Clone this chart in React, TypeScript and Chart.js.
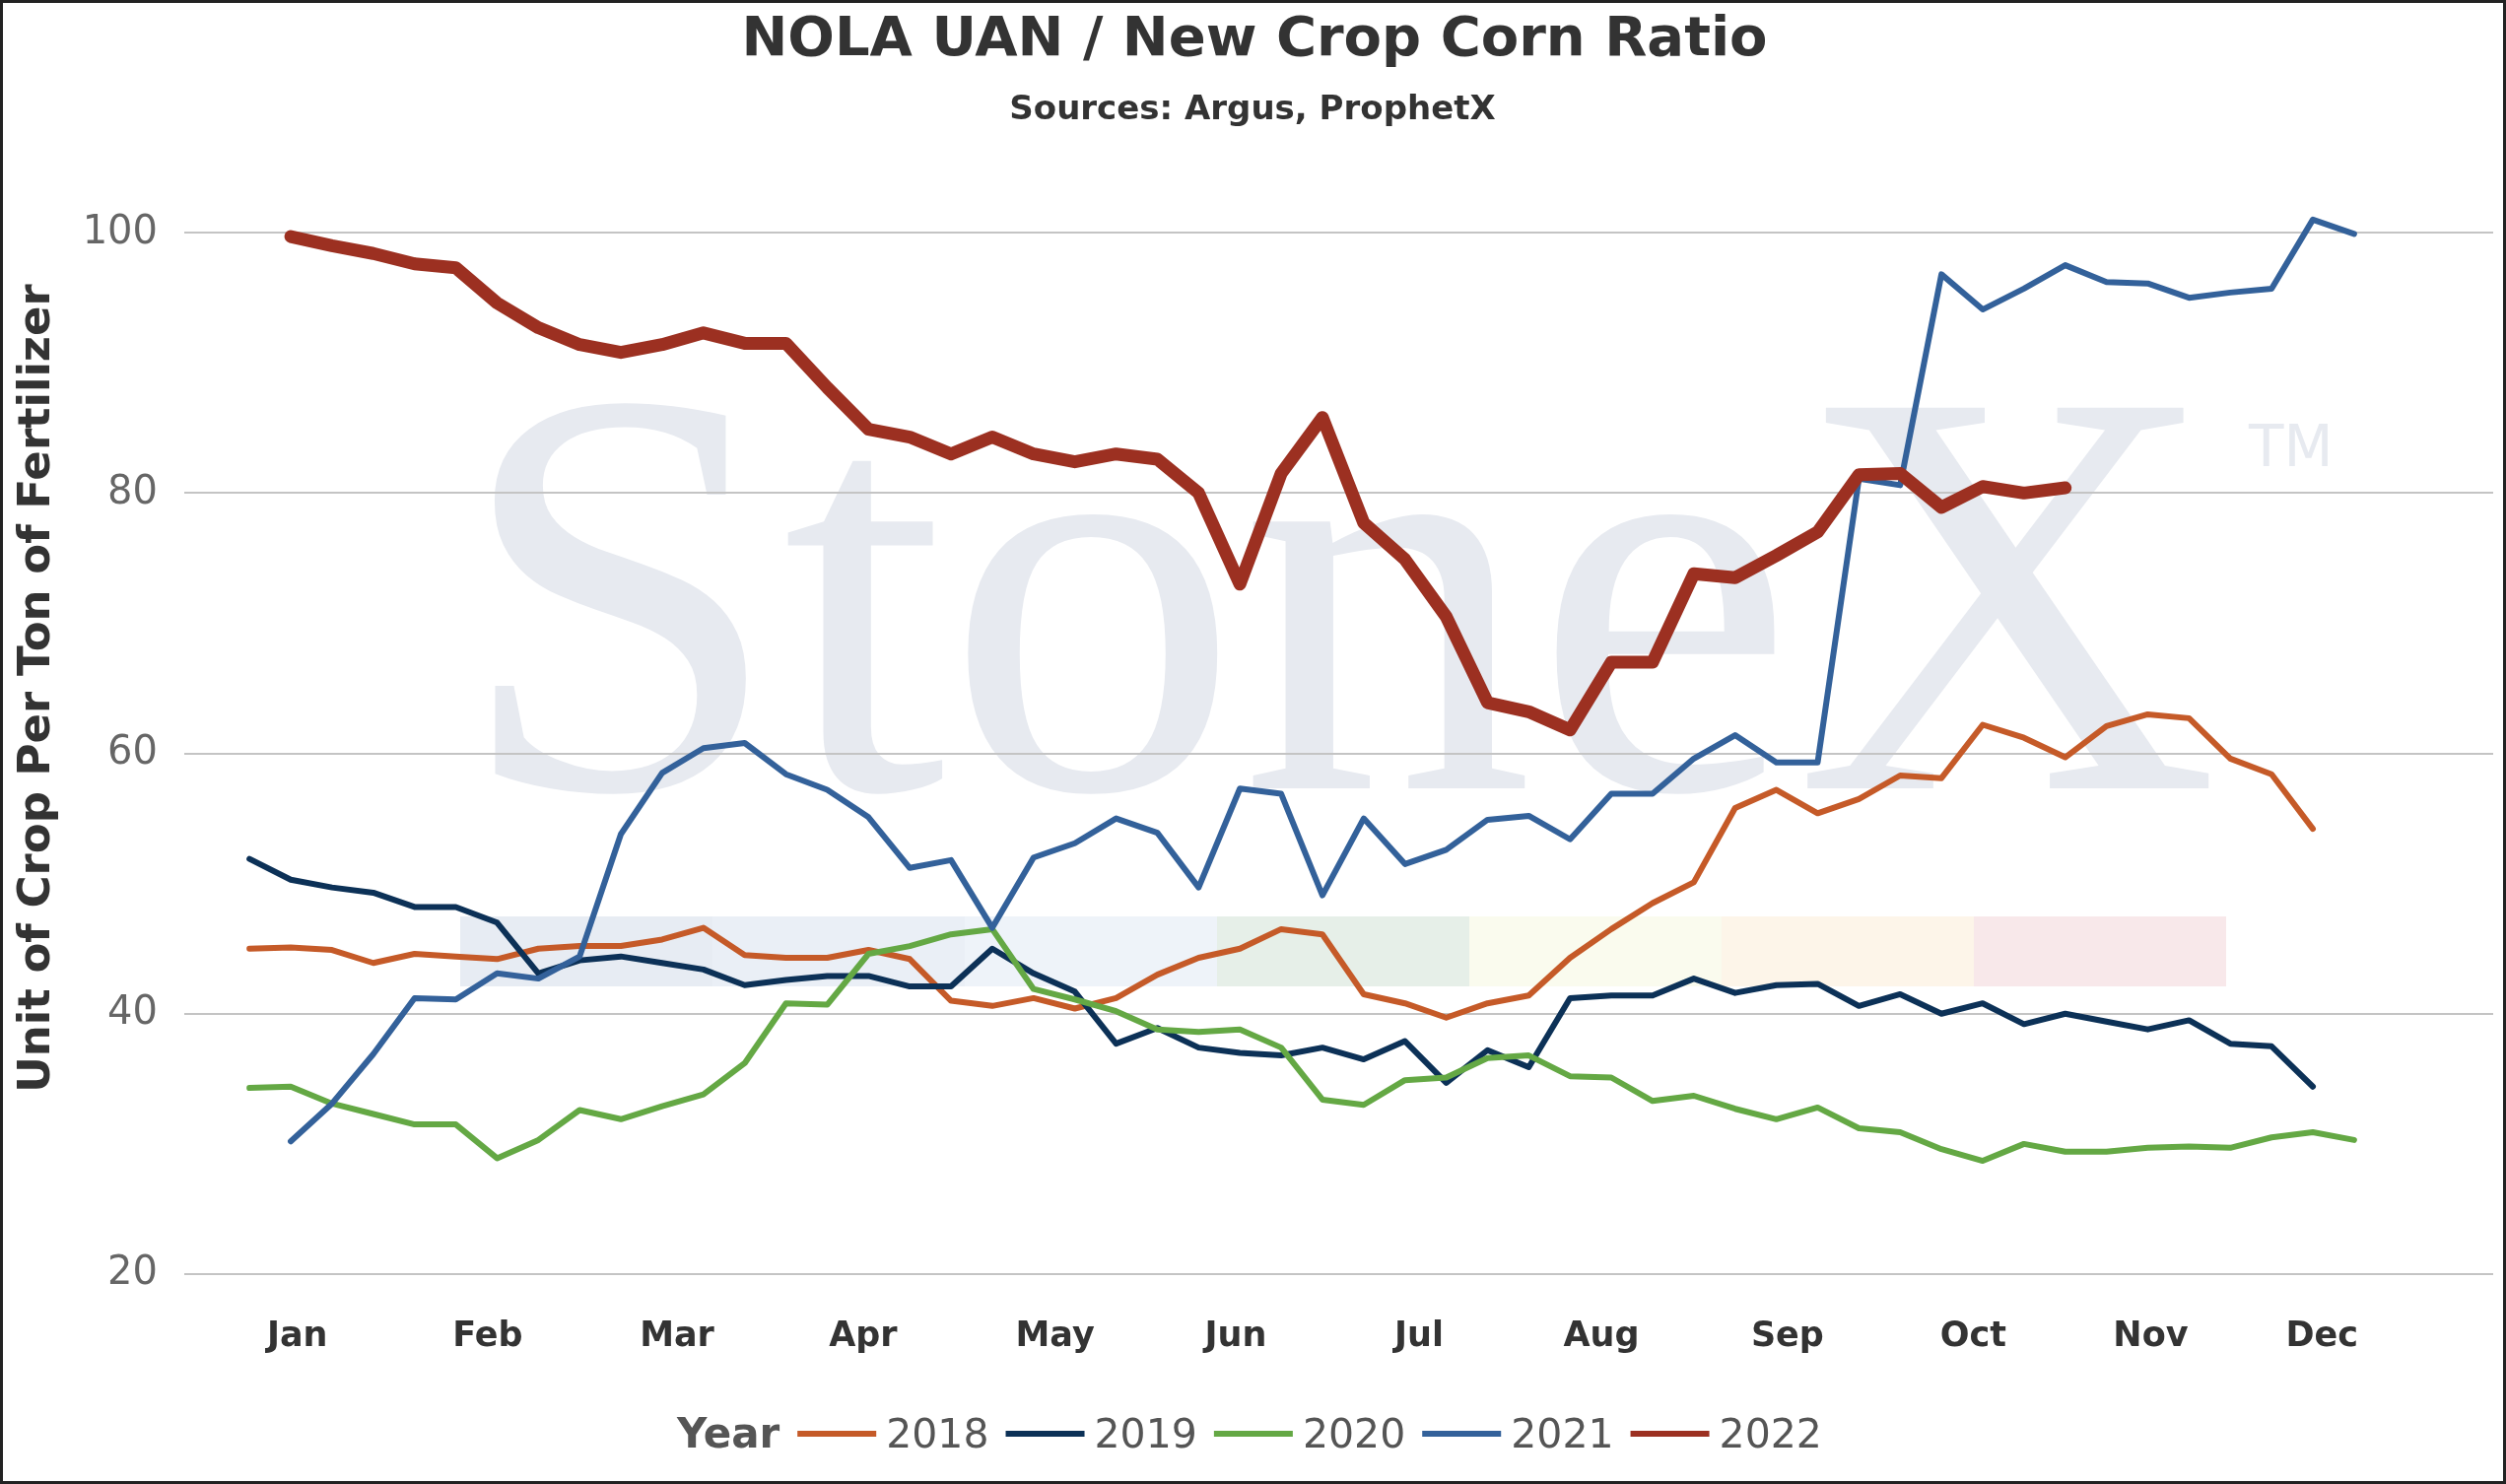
import React, { useEffect, useRef } from 'react';
import { Chart, registerables } from 'chart.js';

Chart.register(...registerables);

const W = 2543;
const H = 1506;

const TITLE = 'NOLA UAN / New Crop Corn Ratio';
const SUBTITLE = 'Sources: Argus, ProphetX';
const Y_TITLE = 'Unit of Crop Per Ton of Fertilizer';
const LEGEND_TITLE = 'Year';

const MONTHS = ['Jan', 'Feb', 'Mar', 'Apr', 'May', 'Jun', 'Jul', 'Aug', 'Sep', 'Oct', 'Nov', 'Dec'];
// position of each month label on the week axis (week index units)
const MONTH_WEEK = [1.16, 5.77, 10.36, 14.87, 19.52, 23.9, 28.34, 32.76, 37.27, 41.77, 46.07, 50.22];
const Y_TICKS = [20, 40, 60, 80, 100];
const YEARS = ['2018', '2019', '2020', '2021', '2022'];

// weekly values, index = week of year (0-based)
const Y2018 = [45.0, 45.1, 44.9, 43.9, 44.6, 44.4, 44.2, 45.0, 45.2, 45.2, 45.7, 46.6, 44.5, 44.3, 44.3, 44.9, 44.2, 41.0, 40.6, 41.2, 40.4, 41.2, 43.0, 44.3, 45.0, 46.5, 46.1, 41.5, 40.8, 39.7, 40.8, 41.4, 44.3, 46.5, 48.5, 50.1, 55.8, 57.2, 55.4, 56.5, 58.3, 58.1, 62.2, 61.2, 59.7, 62.1, 63.0, 62.7, 59.6, 58.4, 54.2];
const Y2019 = [51.9, 50.3, 49.7, 49.3, 48.2, 48.2, 47.0, 43.1, 44.1, 44.4, 43.9, 43.4, 42.2, 42.6, 42.9, 42.9, 42.1, 42.1, 45.0, 43.1, 41.7, 37.7, 38.9, 37.4, 37.0, 36.8, 37.4, 36.5, 37.9, 34.7, 37.2, 35.9, 41.2, 41.4, 41.4, 42.7, 41.6, 42.2, 42.3, 40.6, 41.5, 40.0, 40.8, 39.2, 40.0, 39.4, 38.8, 39.5, 37.7, 37.5, 34.4];
const Y2020 = [34.3, 34.4, 33.1, 32.3, 31.5, 31.5, 28.9, 30.3, 32.6, 31.9, 32.9, 33.8, 36.2, 40.8, 40.7, 44.6, 45.2, 46.1, 46.5, 41.9, 41.1, 40.2, 38.8, 38.6, 38.8, 37.4, 33.4, 33.0, 34.9, 35.1, 36.6, 36.8, 35.2, 35.1, 33.3, 33.7, 32.7, 31.9, 32.8, 31.2, 30.9, 29.6, 28.7, 30.0, 29.4, 29.4, 29.7, 29.8, 29.7, 30.5, 30.9, 30.3];
const Y2021 = [null, 30.2, 33.1, 36.9, 41.2, 41.1, 43.1, 42.7, 44.4, 53.8, 58.5, 60.4, 60.8, 58.4, 57.2, 55.1, 51.2, 51.8, 46.6, 52.0, 53.1, 55.0, 53.9, 49.7, 57.3, 56.9, 49.1, 55.0, 51.5, 52.6, 54.9, 55.2, 53.4, 56.9, 56.9, 59.6, 61.4, 59.3, 59.3, 81.1, 80.6, 96.8, 94.1, 95.7, 97.5, 96.2, 96.1, 95.0, 95.4, 95.7, 101.0, 99.9];
const Y2022 = [null, 99.7, 99.0, 98.4, 97.6, 97.3, 94.6, 92.7, 91.4, 90.8, 91.4, 92.3, 91.5, 91.5, 88.1, 84.9, 84.3, 83.0, 84.3, 83.0, 82.4, 83.0, 82.6, 80.0, 73.0, 81.5, 85.8, 77.7, 74.9, 70.5, 63.9, 63.2, 61.8, 67.0, 67.0, 73.8, 73.5, 75.2, 77.0, 81.4, 81.5, 78.9, 80.5, 80.0, 80.4];

const SERIES = [Y2018, Y2019, Y2020, Y2021, Y2022];

const COLORS = ['#C55A28', '#0C3157', '#64A844', '#33619A', '#9C3021'];
const WIDTHS = [6, 6, 6, 6, 13];
const BAR_COLORS = ['#e7ecf3', '#eaeff6', '#eef3f9', '#e6efe8', '#fafbee', '#fdf5e9', '#f8e8ea'];

const FONT = '"DejaVu Sans", Verdana, sans-serif';

const decorPlugin = {
  id: 'decor',
  beforeDraw(chart: any) {
    const ctx = chart.ctx as CanvasRenderingContext2D;
    ctx.save();
    ctx.fillStyle = '#ffffff';
    ctx.fillRect(0, 0, W, H);
    // watermark colour bar
    const bx = 467;
    const bw = 256;
    BAR_COLORS.forEach((c, i) => {
      ctx.fillStyle = c;
      ctx.fillRect(bx + i * bw, 930, bw, 71);
    });
    // watermark text
    ctx.fillStyle = '#e7eaf0';
    ctx.font = '590px "Liberation Serif", "DejaVu Serif", serif';
    ctx.textBaseline = 'alphabetic';
    ctx.textAlign = 'left';
    const tw = ctx.measureText('StoneX').width;
    ctx.save();
    ctx.translate(462, 800);
    ctx.scale(1790 / tw, 1);
    ctx.fillText('StoneX', 0, 0);
    ctx.restore();
    ctx.font = '58px ' + FONT;
    ctx.textBaseline = 'alphabetic';
    ctx.fillText('TM', 2282, 473);
    ctx.restore();
  },
  afterDraw(chart: any) {
    const ctx = chart.ctx as CanvasRenderingContext2D;
    ctx.save();
    // titles
    ctx.fillStyle = '#333333';
    ctx.textAlign = 'center';
    ctx.textBaseline = 'alphabetic';
    ctx.font = 'bold 56px ' + FONT;
    ctx.fillText(TITLE, 1273, 56);
    ctx.font = 'bold 34px ' + FONT;
    ctx.fillText(SUBTITLE, 1271, 121);

    // legend
    const ds = chart.data.datasets;
    ctx.textAlign = 'left';
    ctx.font = 'bold 42px ' + FONT;
    const titleW = ctx.measureText(LEGEND_TITLE).width;
    ctx.font = '41px ' + FONT;
    const labelWs = ds.map((d: any) => ctx.measureText(d.label).width);
    const lineLen = 80;
    const gapTitle = 18;
    const gapLine = 10;
    const gapItem = 17;
    let total = titleW + gapTitle;
    labelWs.forEach((w: number, i: number) => {
      total += lineLen + gapLine + w + (i < labelWs.length - 1 ? gapItem : 0);
    });
    let x = 1268 - total / 2;
    const base = 1469;
    const midY = 1455;
    ctx.fillStyle = '#555555';
    ctx.font = 'bold 42px ' + FONT;
    ctx.fillText(LEGEND_TITLE, x, base);
    x += titleW + gapTitle;
    ctx.font = '41px ' + FONT;
    ds.forEach((d: any, i: number) => {
      ctx.strokeStyle = d.borderColor;
      ctx.lineWidth = 6;
      ctx.lineCap = 'butt';
      ctx.beginPath();
      ctx.moveTo(x, midY);
      ctx.lineTo(x + lineLen, midY);
      ctx.stroke();
      x += lineLen + gapLine;
      ctx.fillStyle = '#555555';
      ctx.fillText(d.label, x, base);
      x += labelWs[i] + gapItem;
    });

    // frame
    ctx.strokeStyle = '#222222';
    ctx.lineWidth = 3;
    ctx.strokeRect(1.5, 1.5, W - 3, H - 3);
    ctx.restore();
  },
};

export default function App() {
  const ref = useRef<HTMLCanvasElement | null>(null);

  useEffect(() => {
    document.body.style.margin = '0';
    document.body.style.overflow = 'hidden';
    const canvas = ref.current;
    if (!canvas) return;

    const datasets = YEARS.map((label, k) => ({
      label,
      data: SERIES[k].map((v, i) => ({ x: i, y: v })),
      borderColor: COLORS[k],
      backgroundColor: COLORS[k],
      borderWidth: WIDTHS[k],
      pointRadius: 0,
      pointHoverRadius: 0,
      tension: 0,
      order: YEARS.length - 1 - k,
      borderCapStyle: 'round' as const,
      borderJoinStyle: 'round' as const,
      spanGaps: false,
    }));

    const chart = new Chart(canvas, {
      type: 'line',
      data: { datasets },
      plugins: [decorPlugin],
      options: {
        animation: false,
        responsive: false,
        devicePixelRatio: 1,
        events: [],
        layout: { padding: { left: 11, right: 13, top: 104, bottom: 113 } },
        plugins: {
          legend: { display: false },
          title: { display: false },
          tooltip: { enabled: false },
        },
        scales: {
          x: {
            type: 'linear',
            min: -1.58,
            max: 54.37,
            grid: { display: false, drawTicks: false },
            border: { display: false },
            afterBuildTicks: (scale: any) => {
              scale.ticks = MONTH_WEEK.map((v) => ({ value: v }));
            },
            afterFit: (scale: any) => {
              scale.height = 100;
            },
            ticks: {
              autoSkip: false,
              maxRotation: 0,
              minRotation: 0,
              padding: 43,
              color: '#333333',
              font: { family: FONT, size: 35, weight: 'bold' },
              callback: (_v: any, i: number) => MONTHS[i],
            },
          },
          y: {
            type: 'linear',
            min: 20,
            max: 110,
            afterBuildTicks: (scale: any) => {
              scale.ticks = Y_TICKS.map((v) => ({ value: v }));
            },
            afterFit: (scale: any) => {
              scale.width = 176;
            },
            grid: { color: '#c4c4c4', lineWidth: 2, drawTicks: false },
            border: { display: false },
            ticks: {
              padding: 27,
              color: '#666666',
              font: { family: FONT, size: 40 },
            },
            title: {
              display: true,
              text: Y_TITLE,
              color: '#333333',
              font: { family: FONT, size: 45, weight: 'bold' },
              padding: { top: 0, bottom: 0 },
            },
          },
        },
      },
    } as any);

    return () => chart.destroy();
  }, []);

  return <canvas ref={ref} width={W} height={H} style={{ display: 'block', width: W, height: H }} />;
}
